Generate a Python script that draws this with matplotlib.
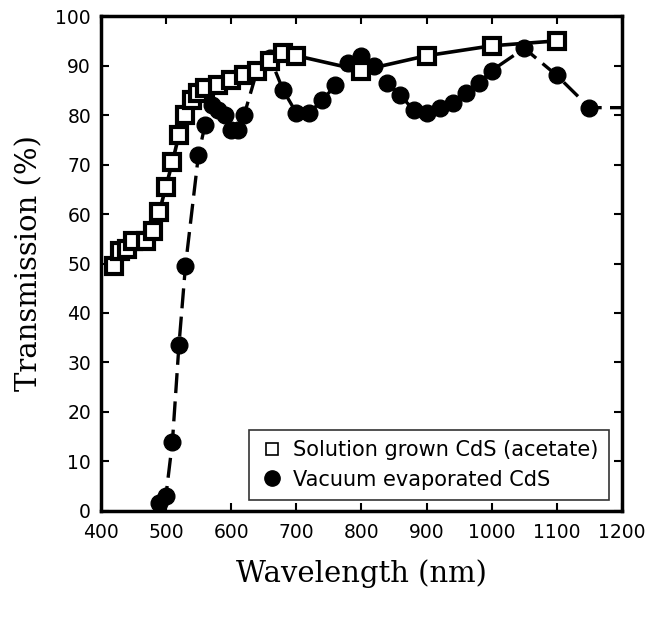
import numpy as np
import matplotlib
matplotlib.use("Agg")
import matplotlib.pyplot as plt

# solution grown CdS (acetate)
sol_wl = [420, 430, 440, 450, 470, 480, 490, 500, 510, 520, 530, 540, 550, 560,
          580, 600, 620, 640, 660, 680, 700, 800, 900, 1000, 1100]
sol_t = [49.5, 52.5, 53, 54.5, 54.5, 56.5, 60.5, 65.5, 70.5, 76, 80, 83, 84.5, 85.5,
         86, 87, 88, 89, 91, 92.5, 92, 89, 92, 94, 95]

# vacuum evaporated CdS
vac_wl = [490, 500, 510, 520, 530, 550, 560, 570, 580, 590, 600, 610, 620, 640,
          660, 680, 700, 720, 740, 760, 780, 800, 820, 840, 860, 880, 900, 920,
          940, 960, 980, 1000, 1050, 1100, 1150, 1210]
vac_t = [1.5, 3, 14, 33.5, 49.5, 72, 78, 82, 81, 80, 77, 77, 80, 89,
         91.5, 85, 80.5, 80.5, 83, 86, 90.5, 92, 90, 86.5, 84, 81, 80.5, 81.5,
         82.5, 84.5, 86.5, 89, 93.5, 88, 81.5, 81.5]

xticks = np.arange(400, 1201, 100)
yticks = np.arange(0, 101, 10)

fig = plt.figure(figsize=(6.5, 6.2), dpi=100)
ax = fig.add_axes([0.155, 0.176, 0.802, 0.798])

ax.plot(vac_wl, vac_t, color="black", lw=2.4, ls=(0, (6, 2.5)),
        marker="o", ms=12, mfc="black", mec="black",
        markevery=list(range(len(vac_wl) - 1)),
        label="Vacuum evaporated CdS")
ax.plot(sol_wl, sol_t, color="black", lw=2.6, ls="-",
        marker="s", ms=11.5, mfc="white", mec="black", mew=3,
        label="Solution grown CdS (acetate)")

ax.set_xlim(400, 1200)
ax.set_ylim(0, 100)
ax.set_xticks(xticks)
ax.set_yticks(yticks)
ax.tick_params(direction="in", top=True, right=True, length=6, width=1.5,
               labelsize=13.5)
ax.tick_params(axis="x", pad=9)
ax.tick_params(axis="y", pad=7)
for s in ax.spines.values():
    s.set_linewidth(2.5)

ax.set_xlabel("Wavelength (nm)", family="DejaVu Serif", fontsize=21, labelpad=12)
ax.set_ylabel("Transmission (%)", family="DejaVu Serif", fontsize=21, labelpad=9)

sq = plt.Line2D([], [], ls="none", marker="s", ms=8, mfc="white", mec="black", mew=1.2)
ci = plt.Line2D([], [], ls="none", marker="o", ms=11, mfc="black", mec="black")
leg = ax.legend([sq, ci], ["Solution grown CdS (acetate)", "Vacuum evaporated CdS"],
                loc="lower right", bbox_to_anchor=(0.975, 0.022), fontsize=15,
                frameon=True, fancybox=False, edgecolor="black",
                handletextpad=0.4, handlelength=1.2, borderpad=0.5, labelspacing=0.45,
                borderaxespad=0)
leg.get_frame().set_linewidth(1.2)

fig.savefig("out.png", dpi=100)
